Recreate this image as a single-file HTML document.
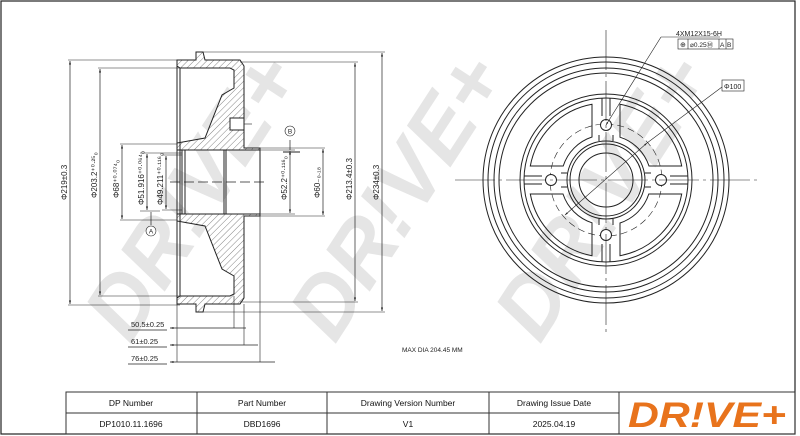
<!DOCTYPE html>
<html><head><meta charset="utf-8"><style>
html,body{margin:0;padding:0;background:#fff}
svg{display:block}
text{font-family:"Liberation Sans",sans-serif}
</style></head><body>
<svg width="800" height="436" viewBox="0 0 800 436" xmlns="http://www.w3.org/2000/svg">
<defs>
<pattern id="h" width="4.5" height="4.5" patternUnits="userSpaceOnUse" patternTransform="rotate(45)">
<rect width="4.5" height="4.5" fill="#fff"/><line x1="0" y1="0" x2="0" y2="4.5" stroke="#333" stroke-width="0.6"/>
</pattern>
<marker id="a" viewBox="0 0 10 10" refX="10" refY="5" markerWidth="5" markerHeight="5" orient="auto-start-reverse"><path d="M0,2 L10,5 L0,8z" fill="#222"/></marker>
</defs>
<rect x="1" y="1" width="794" height="433" fill="none" stroke="#222" stroke-width="1.2"/>
<g fill="#e5e5e5" font-weight="bold" font-style="italic" font-size="86" font-family="Liberation Sans,sans-serif">
<text transform="translate(130,345) rotate(-57)">DR!VE+</text>
<text transform="translate(335,345) rotate(-57)">DR!VE+</text>
<text transform="translate(540,345) rotate(-57)">DR!VE+</text>
</g>
<g stroke="#222" stroke-width="1" fill="url(#h)">
<path d="M177,60 L196,60 L196,52 L203,52 L205,60 L240,60 L244,66 L244,148 L260,148 L260,150 L177,150 L177,143 L205,138 L222,95 L234,88 L234,70 L230,68 L180,68 L177,66 Z"/>
<path d="M177,304 L196,304 L196,312 L203,312 L205,304 L240,304 L244,298 L244,216 L260,216 L260,214 L177,214 L177,221 L205,226 L222,269 L234,276 L234,294 L230,296 L180,296 L177,298 Z"/>
</g>
<g stroke="#222" stroke-width="1" fill="none">
<rect x="230" y="118" width="14" height="12" fill="#fff"/>
<line x1="177" y1="60" x2="177" y2="304"/>
<line x1="180" y1="68" x2="180" y2="296"/>
<line x1="182" y1="150" x2="182" y2="214"/>
<line x1="185" y1="150" x2="185" y2="214"/>
<line x1="224" y1="150" x2="224" y2="214"/>
<line x1="226" y1="150" x2="226" y2="214"/>
<line x1="260" y1="150" x2="260" y2="214"/>
<line x1="170" y1="182" x2="268" y2="182" stroke-dasharray="10,4" stroke-width="0.7"/>
<line x1="244" y1="124" x2="252" y2="124" stroke-width="0.6"/>
</g>
<g stroke="#222" stroke-width="0.6" fill="none">
<line x1="68" y1="60" x2="177" y2="60"/><line x1="68" y1="305" x2="180" y2="305"/>
<line x1="98" y1="68" x2="180" y2="68"/><line x1="98" y1="296" x2="180" y2="296"/>
<line x1="120" y1="144" x2="177" y2="144"/><line x1="120" y1="220" x2="177" y2="220"/>
<line x1="140" y1="153" x2="182" y2="153"/><line x1="140" y1="211" x2="160" y2="211"/>
<line x1="162" y1="155" x2="182" y2="155"/><line x1="162" y1="210" x2="182" y2="210"/>
<line x1="260" y1="150" x2="295" y2="150"/><line x1="260" y1="214" x2="295" y2="214"/>
<line x1="260" y1="148" x2="325" y2="148"/><line x1="260" y1="216" x2="325" y2="216"/>
<line x1="240" y1="62" x2="358" y2="62"/><line x1="240" y1="302" x2="358" y2="302"/>
<line x1="203" y1="52" x2="385" y2="52"/><line x1="203" y1="312" x2="385" y2="312"/>
<line x1="177" y1="304" x2="177" y2="362"/>
<line x1="234" y1="296" x2="234" y2="328"/><line x1="244" y1="304" x2="244" y2="345"/><line x1="260" y1="216" x2="260" y2="362"/>
<line x1="283" y1="152" x2="300" y2="152" stroke-width="1"/>
</g>
<g stroke="#222" stroke-width="0.7" marker-start="url(#a)" marker-end="url(#a)">
<line x1="70" y1="61" x2="70" y2="304"/>
<line x1="100" y1="69" x2="100" y2="295"/>
<line x1="122" y1="145" x2="122" y2="219"/>
<line x1="147" y1="154" x2="147" y2="210"/>
<line x1="166" y1="156" x2="166" y2="209"/>
<line x1="290" y1="151" x2="290" y2="213"/>
<line x1="323" y1="149" x2="323" y2="215"/>
<line x1="355" y1="63" x2="355" y2="301"/>
<line x1="382" y1="53" x2="382" y2="311"/>
</g>
<g stroke="#222" stroke-width="0.7">
<line x1="170" y1="328" x2="246" y2="328" marker-start="url(#a)"/>
<line x1="170" y1="345" x2="258" y2="345" marker-start="url(#a)"/>
<line x1="170" y1="362" x2="275" y2="362" marker-start="url(#a)"/>
<line x1="128" y1="330" x2="167" y2="330"/>
<line x1="128" y1="347" x2="167" y2="347"/>
<line x1="128" y1="364" x2="167" y2="364"/>
<line x1="151" y1="212" x2="151" y2="225"/>
<line x1="290" y1="140" x2="290" y2="150"/>
</g>
<g font-size="7.5" fill="#222">
<text x="131" y="327">50.5±0.25</text>
<text x="131" y="344">61±0.25</text>
<text x="131" y="361">76±0.25</text>
<text x="402" y="352" font-size="6.5">MAX DIA 204.45 MM</text>
</g>
<g font-size="8" fill="#222">
<text transform="translate(67,200) rotate(-90)">Φ219±0.3</text>
<text transform="translate(97,198) rotate(-90)">Φ203.2⁺⁰·²⁵₀</text>
<text transform="translate(119,198) rotate(-90)">Φ68⁺⁰·⁰⁷⁴₀</text>
<text transform="translate(144,205) rotate(-90)">Φ51.916⁺⁰·⁰⁶⁴₀</text>
<text transform="translate(163,205) rotate(-90)">Φ49.211⁺⁰·¹¹⁶₀</text>
<text transform="translate(287,200) rotate(-90)">Φ52.2⁺⁰·¹¹⁶₀</text>
<text transform="translate(320,198) rotate(-90)">Φ60₋₀.₁₈</text>
<text transform="translate(352,200) rotate(-90)">Φ213.4±0.3</text>
<text transform="translate(379,200) rotate(-90)">Φ234±0.3</text>
</g>
<g fill="#fff" stroke="#222" stroke-width="0.6"><circle cx="151" cy="231" r="5"/><circle cx="290" cy="131" r="5"/></g>
<g font-size="6.5" fill="#222" text-anchor="middle"><text x="151" y="233.5">A</text><text x="290" y="133.5">B</text></g>
<g stroke="#222" stroke-width="1" fill="none">
<circle cx="606" cy="180" r="123"/><circle cx="606" cy="180" r="118"/><circle cx="606" cy="180" r="112"/><circle cx="606" cy="180" r="107"/>
<circle cx="606" cy="180" r="86"/><circle cx="606" cy="180" r="82"/>
<circle cx="606" cy="180" r="39"/><circle cx="606" cy="180" r="36"/><circle cx="606" cy="180" r="27"/>
<circle cx="606" cy="180" r="56" stroke-dasharray="7,4" stroke-width="0.6"/>
<g id="w">
<path d="M620,104.3 A77,77 0 0 1 681.7,166 L649,166 A45,45 0 0 0 620,137.2 Z"/>
<path d="M602,98 L602,116 M610,98 L610,116 M599,141 L599,135 M613,141 L613,135"/>
<circle cx="606" cy="125" r="5.5" fill="#fff"/>
</g>
<use href="#w" transform="rotate(90 606 180)"/>
<use href="#w" transform="rotate(180 606 180)"/>
<use href="#w" transform="rotate(270 606 180)"/>
</g>
<g stroke="#222" stroke-width="0.6" fill="none">
<line x1="606" y1="30" x2="606" y2="333" stroke-dasharray="40,4,3,4"/>
<line x1="455" y1="180" x2="760" y2="180" stroke-dasharray="40,4,3,4"/>
<line x1="606" y1="125" x2="661" y2="37" marker-start="url(#a)"/>
<line x1="661" y1="37" x2="720" y2="37"/>
<line x1="565" y1="215" x2="647" y2="143" marker-start="url(#a)" marker-end="url(#a)"/>
<line x1="647" y1="143" x2="722" y2="87"/>
<rect x="678" y="39" width="55" height="10"/><line x1="688" y1="39" x2="688" y2="49"/><line x1="719" y1="39" x2="719" y2="49"/><line x1="726" y1="39" x2="726" y2="49"/>
<rect x="722" y="80" width="22" height="11"/>
</g>
<g font-size="7" fill="#222">
<text x="676" y="36">4XM12X15-6H</text>
<text x="680" y="47">⊕</text><text x="690" y="47" font-size="6.5">⌀0.25Ⓜ</text><text x="720" y="47" font-size="6.5">A</text><text x="727" y="47" font-size="6.5">B</text>
<text x="724" y="89">Φ100</text>
</g>
<g stroke="#333" stroke-width="1" fill="none">
<rect x="66" y="392" width="729" height="42"/>
<line x1="66" y1="413" x2="619" y2="413"/>
<line x1="197" y1="392" x2="197" y2="434"/><line x1="327" y1="392" x2="327" y2="434"/>
<line x1="489" y1="392" x2="489" y2="434"/><line x1="619" y1="392" x2="619" y2="434"/>
</g>
<g font-size="8.5" fill="#111" text-anchor="middle">
<text x="131" y="406">DP Number</text><text x="262" y="406">Part Number</text><text x="408" y="406">Drawing Version Number</text><text x="554" y="406">Drawing Issue Date</text>
<text x="131" y="427">DP1010.11.1696</text><text x="262" y="427">DBD1696</text><text x="408" y="427">V1</text><text x="554" y="427">2025.04.19</text>
</g>
<text x="707" y="427" text-anchor="middle" font-size="35" font-weight="bold" font-style="italic" fill="#e8731c" textLength="158" lengthAdjust="spacingAndGlyphs">DR!VE+</text>
</svg>
</body></html>
